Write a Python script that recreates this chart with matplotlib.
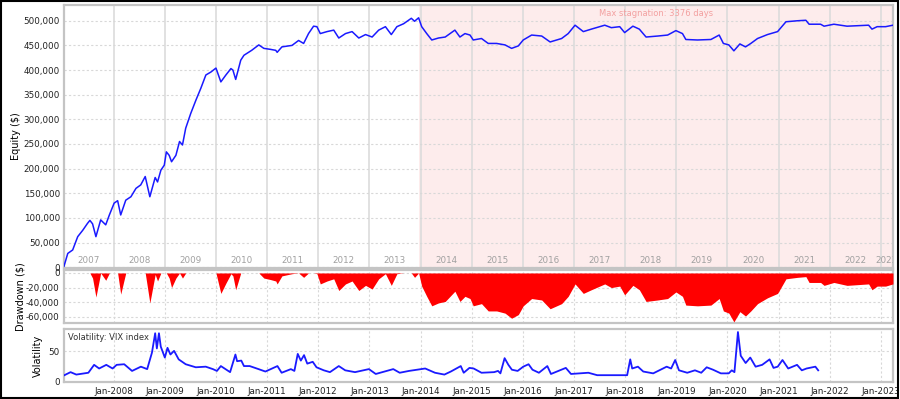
import numpy as np
import pandas as pd
import matplotlib
matplotlib.use("Agg")
import matplotlib.pyplot as plt
import matplotlib.dates as mdates
from matplotlib.ticker import FuncFormatter, MultipleLocator
from matplotlib.patches import Rectangle

# equity curve
eq_dates = ["2007-01-12", "2007-02-08", "2007-03-15", "2007-04-20", "2007-05-26", "2007-06-29",
            "2007-07-16", "2007-08-04", "2007-08-28", "2007-10-01", "2007-11-06", "2007-12-02",
            "2008-01-05", "2008-01-30", "2008-02-21", "2008-03-28", "2008-05-04", "2008-06-09",
            "2008-07-13", "2008-08-14", "2008-09-16", "2008-10-24", "2008-11-10", "2008-12-04",
            "2008-12-28", "2009-01-12", "2009-02-01", "2009-02-18", "2009-03-21", "2009-04-16",
            "2009-05-07", "2009-05-30", "2009-07-05", "2009-08-11", "2009-09-15", "2009-10-21",
            "2009-11-26", "2010-01-01", "2010-02-05", "2010-03-13", "2010-04-18", "2010-05-02",
            "2010-05-22", "2010-06-27", "2010-07-20", "2010-09-13", "2010-11-03", "2010-12-09",
            "2011-01-25", "2011-03-04", "2011-03-14", "2011-04-17", "2011-06-28", "2011-08-14",
            "2011-09-19", "2011-10-24", "2011-11-29", "2011-12-23", "2012-01-16", "2012-03-04",
            "2012-04-21", "2012-05-27", "2012-07-14", "2012-08-30", "2012-10-17", "2012-12-04",
            "2013-01-20", "2013-03-08", "2013-04-25", "2013-06-06", "2013-07-16", "2013-09-02",
            "2013-10-27", "2013-11-19", "2013-12-18", "2014-01-09", "2014-02-14", "2014-03-22",
            "2014-05-09", "2014-06-26", "2014-09-03", "2014-10-09", "2014-11-14", "2014-12-20",
            "2015-01-12", "2015-03-12", "2015-04-29", "2015-06-28", "2015-08-27", "2015-10-13",
            "2015-11-30", "2016-01-04", "2016-03-04", "2016-05-15", "2016-07-14", "2016-10-04",
            "2016-11-20", "2017-01-08", "2017-03-08", "2017-05-04", "2017-08-08", "2017-09-24",
            "2017-11-23", "2017-12-28", "2018-02-25", "2018-04-12", "2018-05-30", "2018-08-21",
            "2018-10-31", "2018-12-29", "2019-02-14", "2019-03-10", "2019-06-01", "2019-09-05",
            "2019-11-03", "2019-12-03", "2020-01-11", "2020-02-16", "2020-03-30", "2020-05-09",
            "2020-06-16", "2020-08-03", "2020-10-13", "2020-12-24", "2021-02-22", "2021-05-15",
            "2021-07-14", "2021-08-06", "2021-10-27", "2021-11-21", "2022-01-30", "2022-05-04",
            "2022-10-05", "2022-10-29", "2022-12-05", "2023-02-03", "2023-03-28"]
eq_vals = [2000, 28000, 35000, 62000, 75000, 89000,
           95000, 88000, 62000, 96000, 86000, 106000,
           130000, 135000, 106000, 136000, 143000, 160000,
           167000, 184000, 143000, 182000, 173000, 197000,
           207000, 234000, 227000, 214000, 227000, 255000,
           248000, 282000, 312000, 339000, 363000, 390000,
           396000, 404000, 376000, 390000, 403000, 400000,
           381000, 420000, 430000, 440000, 451000, 444000,
           442000, 440000, 436000, 447000, 450000, 460000,
           454000, 474000, 489000, 488000, 474000, 478000,
           481000, 465000, 474000, 478000, 465000, 472000,
           467000, 481000, 488000, 472000, 488000, 494000,
           505000, 499000, 506000, 488000, 474000, 461000,
           465000, 467000, 481000, 467000, 474000, 471000,
           461000, 464000, 454000, 454000, 451000, 444000,
           449000, 461000, 471000, 469000, 457000, 464000,
           474000, 491000, 478000, 483000, 491000, 486000,
           488000, 476000, 489000, 483000, 467000, 469000,
           471000, 480000, 474000, 462000, 461000, 462000,
           471000, 454000, 451000, 439000, 453000, 447000,
           454000, 464000, 472000, 478000, 498000, 500000,
           501000, 493000, 493000, 489000, 493000, 489000,
           491000, 483000, 488000, 488000, 491000]

# VIX index
vix_dates = ["2007-01-15", "2007-02-28", "2007-04-10", "2007-07-05", "2007-08-15", "2007-09-20",
             "2007-11-10", "2007-12-25", "2008-01-23", "2008-03-17", "2008-05-12", "2008-07-14",
             "2008-08-28", "2008-10-01", "2008-10-24", "2008-11-05", "2008-11-20", "2008-12-03",
             "2009-01-01", "2009-01-20", "2009-02-10", "2009-03-08", "2009-04-10", "2009-05-30",
             "2009-08-10", "2009-10-20", "2009-12-10", "2010-01-08", "2010-02-05", "2010-04-12",
             "2010-05-20", "2010-06-01", "2010-07-01", "2010-07-20", "2010-08-30", "2010-11-01",
             "2010-12-20", "2011-03-16", "2011-04-15", "2011-06-20", "2011-07-15", "2011-08-08",
             "2011-08-30", "2011-09-22", "2011-10-15", "2011-11-23", "2011-12-20", "2012-02-10",
             "2012-03-25", "2012-05-27", "2012-07-12", "2012-09-20", "2012-12-28", "2013-02-15",
             "2013-06-20", "2013-08-05", "2013-10-10", "2014-02-03", "2014-04-14", "2014-06-20",
             "2014-08-05", "2014-10-15", "2014-11-05", "2014-12-16", "2015-01-15", "2015-03-12",
             "2015-06-10", "2015-07-08", "2015-07-25", "2015-08-24", "2015-09-20", "2015-10-15",
             "2015-11-25", "2016-01-04", "2016-02-11", "2016-03-10", "2016-04-25", "2016-06-24",
             "2016-07-20", "2016-11-03", "2016-12-10", "2017-04-13", "2017-06-15", "2017-10-05",
             "2018-01-15", "2018-02-06", "2018-02-20", "2018-04-02", "2018-05-10", "2018-07-20",
             "2018-10-24", "2018-11-25", "2018-12-24", "2019-01-20", "2019-03-20", "2019-05-14",
             "2019-06-28", "2019-08-06", "2019-09-20", "2019-11-15", "2020-01-10", "2020-02-01",
             "2020-02-20", "2020-03-16", "2020-04-05", "2020-05-10", "2020-06-12", "2020-07-20",
             "2020-09-05", "2020-10-28", "2020-11-25", "2020-12-25", "2021-01-28", "2021-03-10",
             "2021-05-12", "2021-06-15", "2021-07-19", "2021-09-20", "2021-10-10"]
vix_vals = [11, 16, 12, 15, 28, 22,
            28, 22, 28, 29, 18, 25,
            21, 48, 80, 55, 80, 58,
            40, 56, 45, 51, 37, 29,
            24, 25, 21, 18, 26, 16,
            45, 34, 35, 26, 26, 21,
            17, 26, 15, 21, 18, 46,
            35, 44, 30, 33, 24, 19,
            16, 26, 19, 16, 21, 13,
            21, 15, 18, 22, 15, 12,
            17, 26, 15, 23, 22, 15,
            16, 18, 14, 39, 28, 20,
            18, 25, 29, 20, 15, 26,
            13, 23, 13, 15, 11, 11,
            11, 37, 22, 25, 17, 14,
            25, 22, 36, 19, 15, 19,
            15, 24, 20, 14, 14, 19,
            16, 82, 43, 31, 40, 25,
            28, 37, 23, 25, 36, 22,
            28, 19, 22, 25, 19]

stag_start = "2013-12-18"
stag_text = "Max stagnation: 3376 days"
years = list(range(2007, 2024))

eq_x = pd.to_datetime(eq_dates)
eq = np.array(eq_vals, dtype=float)
dd = eq - np.maximum.accumulate(eq)
vix_x = pd.to_datetime(vix_dates)

plt.rcParams['font.family'] = ['DejaVu Sans']
plt.rcParams['font.size'] = 6.3

xmin = pd.Timestamp("2007-01-12")
xmax = pd.Timestamp("2023-03-28")

fig = plt.figure(figsize=(9, 3.99), dpi=100)
ax1 = fig.add_axes([0.0711, 0.3283, 0.9211, 0.6592])
ax2 = fig.add_axes([0.0711, 0.1905, 0.9211, 0.1316], sharex=ax1)
ax3 = fig.add_axes([0.0711, 0.0414, 0.9211, 0.1341], sharex=ax1)

blue = '#1a1aff'
frame = '#c4c4c4'

for ax in (ax1, ax2, ax3):
    for s in ax.spines.values():
        s.set_color(frame)
        s.set_linewidth(1.6)
    ax.tick_params(length=0, pad=3, colors='#222222')
    ax.xaxis.set_major_locator(mdates.YearLocator())
    ax.set_axisbelow(True)

# equity
ax1.axvspan(pd.Timestamp(stag_start), xmax, color='#fdecec', lw=0, zorder=0)
ax1.plot(eq_x, eq, color=blue, lw=1.1, zorder=3)
ax1.set_ylim(-1600, 532000)
ax1.yaxis.set_major_locator(MultipleLocator(50000))
ax1.yaxis.set_major_formatter(FuncFormatter(lambda v, p: '{:,.0f}'.format(v)))
ax1.grid(axis='x', color='#dcdcdc', lw=1.2, ls='-')
ax1.grid(axis='y', color='#d8d8d8', lw=0.8, ls=(0, (2, 2)))
ax1.set_ylabel('Equity ($)', fontsize=7)
ax1.yaxis.set_label_coords(-0.052, 0.5)
ax1.text(pd.Timestamp(stag_start) + (xmax - pd.Timestamp(stag_start)) / 2, 0.985, stag_text,
         transform=ax1.get_xaxis_transform(), ha='center', va='top', color='#f3a0a0', fontsize=6)
for y in years:
    a = max(pd.Timestamp(f"{y}-01-01"), xmin)
    b = min(pd.Timestamp(f"{y + 1}-01-01"), xmax)
    ax1.text(a + (b - a) / 2, 0.012, str(y), transform=ax1.get_xaxis_transform(),
             ha='center', va='bottom', color='#a0a0a0', fontsize=6.3, clip_on=True)
plt.setp(ax1.get_xticklabels(), visible=False)

# drawdown
ax2.fill_between(eq_x, dd, 0, color='#ff0000', lw=0, zorder=3)
ax2.set_ylim(-68500, 3400)
ax2.set_yticks([0, -20000, -40000, -60000])
ax2.yaxis.set_major_formatter(FuncFormatter(lambda v, p: '{:,.0f}'.format(v)))
ax2.grid(color='#d8d8d8', lw=0.8, ls=(0, (2, 2)))
ax2.set_ylabel('Drawdown ($)', fontsize=7)
ax2.yaxis.set_label_coords(-0.047, 0.5)
plt.setp(ax2.get_xticklabels(), visible=False)

# volatility
ax3.plot(vix_x, vix_vals, color=blue, lw=1.3, zorder=3)
ax3.set_ylim(-1, 87)
ax3.set_yticks([0, 50])
ax3.grid(color='#d8d8d8', lw=0.8, ls=(0, (2, 2)))
ax3.set_ylabel('Volatility', fontsize=7)
ax3.yaxis.set_label_coords(-0.026, 0.5)
ax3.text(0.005, 0.93, 'Volatility: VIX index', transform=ax3.transAxes, ha='left', va='top',
         fontsize=6, color='#333333')
ax3.xaxis.set_major_formatter(mdates.DateFormatter('%b-%Y'))
ax3.set_xlim(xmin, xmax)

fig.patches.append(Rectangle((0.001, 0.002), 0.997, 0.996, transform=fig.transFigure,
                             fill=False, edgecolor='black', lw=1.5))

plt.savefig('out.png', dpi=100)
